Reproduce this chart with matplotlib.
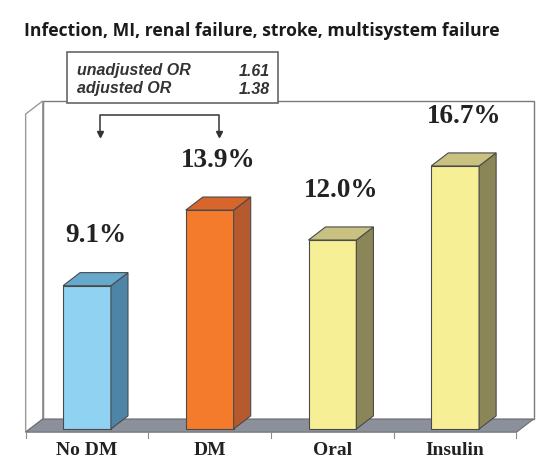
import numpy as np
import matplotlib.pyplot as plt
from matplotlib.patches import Polygon, Rectangle

# data
categories = ['No DM', 'DM', 'Oral', 'Insulin']
values = [9.1, 13.9, 12.0, 16.7]
value_labels = ['9.1%', '13.9%', '12.0%', '16.7%']
or_labels = ['unadjusted OR', 'adjusted OR']
or_values = ['1.61', '1.38']
title = 'Infection, MI, renal failure, stroke, multisystem failure'

# colours per bar: front, side, top
bar_colors = [
    ('#8fd2f1', '#4e84a5', '#66a9cd'),
    ('#f47b2b', '#b55a2f', '#d8662c'),
    ('#f7ef96', '#8b8658', '#c8c182'),
    ('#f7ef96', '#8b8658', '#c8c182'),
]

W = 0.39      # bar width
DX = 0.139    # depth offset (x, data units)
DY = 0.83     # depth offset (y, data units)
YMAX = 20.0
FLOOR = -0.2


def bar3d(ax, x, h, color):
    front, side, top = color
    x0, x1 = x - W / 2, x + W / 2
    ec = '#4a4a4a'
    ax.add_patch(Polygon([(x0, 0), (x1, 0), (x1, h), (x0, h)], closed=True,
                         fc=front, ec=ec, lw=0.8, zorder=5))
    ax.add_patch(Polygon([(x1, 0), (x1 + DX, DY), (x1 + DX, h + DY), (x1, h)],
                         closed=True, fc=side, ec=ec, lw=0.8, zorder=5))
    ax.add_patch(Polygon([(x0, h), (x1, h), (x1 + DX, h + DY), (x0 + DX, h + DY)],
                         closed=True, fc=top, ec=ec, lw=0.8, zorder=5))


fig = plt.figure(figsize=(5.5, 4.65), dpi=100)
ax = fig.add_axes([0, 0, 1, 1])
ax.set_xlim(-0.709, 3.773)
ax.set_ylim(-2.286, 27.24)
ax.axis('off')

n = len(categories)
xl, xr = -0.5, n - 0.5

# back wall, left wall, floor
ax.add_patch(Polygon([(xl + DX, FLOOR + DY), (xr + DX, FLOOR + DY),
                      (xr + DX, YMAX + DY), (xl + DX, YMAX + DY)], closed=True,
                     fc='white', ec='#7a7a7a', lw=1.0, zorder=1))
ax.add_patch(Polygon([(xl, FLOOR), (xl + DX, FLOOR + DY), (xl + DX, YMAX + DY),
                      (xl, YMAX)], closed=True, fc='white', ec='#9a9a9a',
                     lw=1.0, zorder=1))
ax.add_patch(Polygon([(xl, FLOOR), (xr, FLOOR), (xr + DX, FLOOR + DY),
                      (xl + DX, FLOOR + DY)], closed=True, fc='#8b909b',
                     ec='#6a6e76', lw=0.8, zorder=2))
for b in np.arange(n + 1) - 0.5:
    ax.plot([b, b], [FLOOR, FLOOR - 0.35], color='#8a8a8a', lw=0.8, zorder=2)

for i, (v, c) in enumerate(zip(values, bar_colors)):
    bar3d(ax, i, v, c)
    ax.text(i + DX / 2, v + DY + 1.55, value_labels[i], ha='center',
            va='bottom', fontsize=19.5, fontweight='bold',
            family='Liberation Serif', color='#222222', zorder=6)
    ax.text(i, -0.8, categories[i], ha='center', va='top', fontsize=14,
            fontweight='bold', family='Liberation Serif', color='#222222')

# bracket between No DM and DM
bx = [0 + DX * 0.75, 1 + DX * 0.55]
ax.plot([bx[0], bx[0], bx[1], bx[1]], [18.8, 19.95, 19.95, 18.8],
        color='#444444', lw=1.2, zorder=6)
ax.plot(bx, [18.7, 18.7], linestyle='none', marker='v', markersize=5,
        color='#333333', zorder=6)

# OR box
ax.add_patch(Rectangle((67 / 550, 1 - 103 / 465), 211 / 550, 51 / 465,
                       transform=ax.transAxes, fc='white', ec='#666666',
                       lw=1.2, zorder=7))
for k, (lab, val) in enumerate(zip(or_labels, or_values)):
    yy = 1 - (71 + 18 * k) / 465
    ax.text(77 / 550, yy, lab, transform=ax.transAxes, ha='left', va='center',
            fontsize=11.5, fontweight='bold', style='italic',
            family='Liberation Sans', color='#333333', zorder=8)
    ax.text(270 / 550, yy, val, transform=ax.transAxes, ha='right',
            va='center', fontsize=11.5, fontweight='bold', style='italic',
            family='Liberation Sans', color='#333333', zorder=8)

fig.text(24 / 550, 1 - 31 / 465, title, ha='left', va='center', fontsize=12.6,
         fontweight='bold', family='Open Sans', color='#1a1a1a')

fig.savefig('out.png', dpi=100)
